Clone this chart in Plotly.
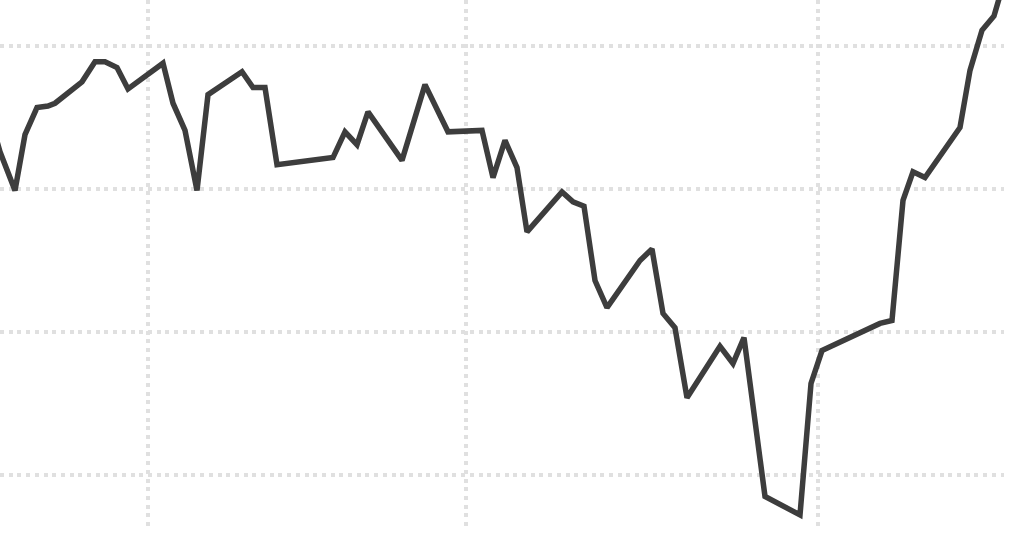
import plotly.graph_objects as go

# x positions (arbitrary time units) and values
x_vals = [-6, 0, 15, 25, 37, 48, 55, 82, 95, 105, 117, 128, 163, 173, 185, 197, 208, 242, 253,
          265, 277, 333, 345, 357, 368, 402, 425, 448, 482, 493, 505, 517, 527, 562, 573, 584,
          595, 607, 640, 652, 663, 675, 687, 720, 733, 744, 765, 800, 811, 822, 880, 892, 903,
          913, 925, 960, 970, 982, 994, 1004]
y_vals = [341, 326, 299, 338, 357, 358, 360, 375, 389, 389, 385, 370, 388, 360, 341, 299, 366,
          382, 371, 371, 317, 322, 340, 331, 354, 320, 373, 340, 341, 308, 334, 315, 270, 298,
          291, 288, 236, 217, 250, 258, 213, 203, 154, 190, 178, 196, 85, 72, 164, 187, 206,
          208, 292, 312, 308, 343, 383, 411, 421, 445]

x_grid = [148, 466, 818]
y_grid = [100, 200, 300, 400]

fig = go.Figure()
fig.add_trace(go.Scatter(
    x=x_vals, y=y_vals, mode="lines",
    line=dict(color="#3d3d3d", width=5.5),
    hoverinfo="skip", showlegend=False,
))

grid_style = dict(showgrid=True, gridcolor="#e0e0e0", gridwidth=4, griddash="4px,4.7px",
                  showticklabels=False, ticks="", zeroline=False, showline=False)

fig.update_xaxes(range=[0, 1004], tickmode="array", tickvals=x_grid, **grid_style)
fig.update_yaxes(range=[61.5, 432.2], tickmode="array", tickvals=y_grid, **grid_style)

fig.update_layout(
    width=1024, height=535,
    margin=dict(l=0, r=20, t=0, b=5),
    paper_bgcolor="white", plot_bgcolor="white",
)

fig.write_html("out.html", config={"displayModeBar": False},
               post_script="document.body.style.margin='0';document.body.style.overflow='hidden';")
